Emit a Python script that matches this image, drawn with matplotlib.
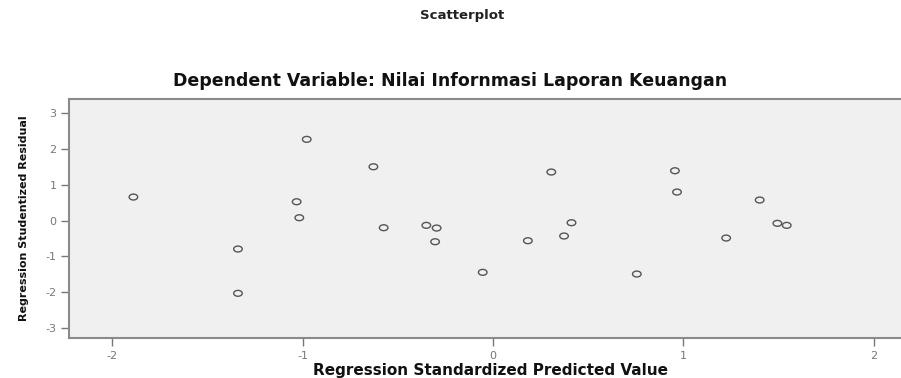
import numpy as np
import matplotlib
matplotlib.use("Agg")
import matplotlib.pyplot as plt
from matplotlib.path import Path
from matplotlib.transforms import Affine2D

plt.rcParams["axes.unicode_minus"] = False

# standardized predicted value vs studentized residual
pred = [-1.888, -1.339, -1.339, -1.031, -1.017, -0.978, -0.628, -0.574,
        -0.350, -0.296, -0.304, -0.054, 0.183, 0.306, 0.373, 0.412,
        0.755, 0.955, 0.966, 1.224, 1.400, 1.493, 1.542]
resid = [0.654, -0.793, -2.026, 0.523, 0.078, 2.260, 1.497, -0.200,
         -0.134, -0.209, -0.590, -1.442, -0.562, 1.350, -0.431, -0.061,
         -1.489, 1.386, 0.793, -0.487, 0.571, -0.078, -0.134]

xticks = [-2, -1, 0, 1, 2]
yticks = [3, 2, 1, 0, -1, -2, -3]

title = "Scatterplot"
subtitle = "Dependent Variable: Nilai Infornmasi Laporan Keuangan"
xlabel = "Regression Standardized Predicted Value"
ylabel = "Regression Studentized Residual"

# slightly flattened open circle
ell = Path.unit_circle().transformed(Affine2D().scale(1.45, 1.0))

fig = plt.figure(figsize=(9.01, 3.78), dpi=100)
ax = fig.add_axes([0.0766, 0.1058, 0.9234, 0.632])
ax.set_facecolor("#f0f0f0")

ax.scatter(pred, resid, marker=ell, s=38, facecolors="none",
           edgecolors="#555555", linewidths=1.0)

ax.set_xlim(-2.226, 2.142)
ax.set_ylim(-3.27, 3.38)
ax.set_xticks(xticks)
ax.set_yticks(yticks)
ax.tick_params(direction="out", length=6, width=1, color="#777777",
               labelcolor="#777777", labelsize=8, pad=3)

for s in ["left", "bottom", "top"]:
    ax.spines[s].set_color("#8a8a8a")
    ax.spines[s].set_linewidth(1.5)
ax.spines["right"].set_visible(False)

ax.set_ylabel(ylabel, fontsize=8, fontweight="bold", color="#111111",
              labelpad=12)

fig.text(0.544, 0.021, xlabel, ha="center", va="center", fontsize=11,
         fontweight="bold", color="#111111")
fig.text(0.513, 0.958, title, ha="center", va="center", fontsize=9.5,
         fontweight="bold", color="#222222")
fig.text(0.50, 0.785, subtitle, ha="center", va="center", fontsize=12.5,
         fontweight="bold", color="#111111")

fig.savefig("out.png", dpi=100)
